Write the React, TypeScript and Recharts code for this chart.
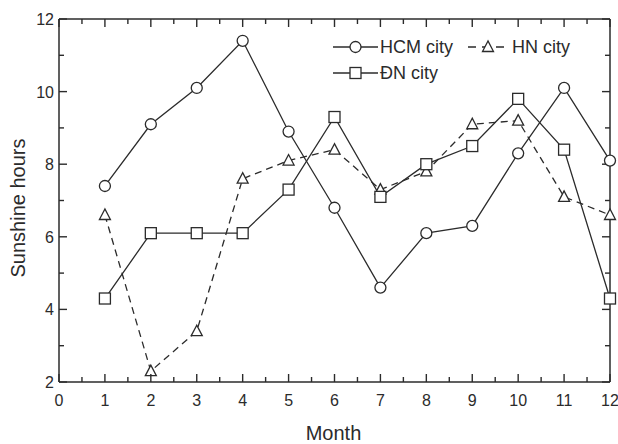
import React from 'react';
import { LineChart, Line, XAxis, YAxis, Legend, Label, ReferenceLine, ReferenceDot } from 'recharts';

const months = [1, 2, 3, 4, 5, 6, 7, 8, 9, 10, 11, 12];
const hcmCity = [7.4, 9.1, 10.1, 11.4, 8.9, 6.8, 4.6, 6.1, 6.3, 8.3, 10.1, 8.1];
const hnCity = [6.6, 2.3, 3.4, 7.6, 8.1, 8.4, 7.3, 7.8, 9.1, 9.2, 7.1, 6.6];
const dnCity = [4.3, 6.1, 6.1, 6.1, 7.3, 9.3, 7.1, 8.0, 8.5, 9.8, 8.4, 4.3];

const xTicks = [0, 0.5, 1, 1.5, 2, 2.5, 3, 3.5, 4, 4.5, 5, 5.5, 6, 6.5, 7, 7.5, 8, 8.5, 9, 9.5, 10, 10.5, 11, 11.5, 12];
const yTicks = [2, 3, 4, 5, 6, 7, 8, 9, 10, 11, 12];

const data = months.map((m, i) => ({ month: m, hcm: hcmCity[i], hn: hnCity[i], dn: dnCity[i] }));

const INK = '#2b2b2b';
const FONT = '"Liberation Sans", Arial, sans-serif';
const DASH = '7 5';

const isMajorX = (v: number) => Number.isInteger(v);
const isMajorY = (v: number) => v % 2 === 0;

// inward ticks, labels only on the bottom/left axes
const BottomTick = (p: any) => {
  const v = p.payload.value;
  const len = isMajorX(v) ? 8 : 5;
  return (
    <g>
      <line x1={p.x} x2={p.x} y1={p.y} y2={p.y - len} stroke={INK} strokeWidth={1.4} />
      {isMajorX(v) && (
        <text x={p.x} y={p.y + 24} textAnchor='middle' fontSize={16} fill={INK} fontFamily={FONT}>{v}</text>
      )}
    </g>
  );
};

const LeftTick = (p: any) => {
  const v = p.payload.value;
  const len = isMajorY(v) ? 8 : 5;
  return (
    <g>
      <line x1={p.x} x2={p.x + len} y1={p.y} y2={p.y} stroke={INK} strokeWidth={1.4} />
      {isMajorY(v) && (
        <text x={p.x - 5} y={p.y + 6} textAnchor='end' fontSize={16} fill={INK} fontFamily={FONT}>{v}</text>
      )}
    </g>
  );
};

// mirrored ticks on the top and right frame edges
const topTickShape = (v: number) => (p: any) => (
  <line x1={p.cx} x2={p.cx} y1={p.cy} y2={p.cy + (isMajorX(v) ? 8 : 5)} stroke={INK} strokeWidth={1.4} />
);
const rightTickShape = (v: number) => (p: any) => (
  <line x1={p.cx} x2={p.cx - (isMajorY(v) ? 8 : 5)} y1={p.cy} y2={p.cy} stroke={INK} strokeWidth={1.4} />
);

const Circle = (p: any) => (
  <circle key={p.key} cx={p.cx} cy={p.cy} r={5.5} fill='#fff' stroke={INK} strokeWidth={1.3} />
);
const Square = (p: any) => (
  <rect key={p.key} x={p.cx - 5.5} y={p.cy - 5.5} width={11} height={11} fill='#fff' stroke={INK} strokeWidth={1.3} />
);
const Triangle = (p: any) => (
  <path key={p.key} d={`M${p.cx},${p.cy - 6}L${p.cx - 5.5},${p.cy + 4.5}L${p.cx + 5.5},${p.cy + 4.5}Z`} fill='#fff' stroke={INK} strokeWidth={1.3} />
);

const LegendBox = () => (
  <svg width={270} height={52} style={{ display: 'block' }}>
    <line x1={3} x2={48} y1={12} y2={12} stroke={INK} strokeWidth={1.3} />
    <Circle cx={25.5} cy={12} />
    <text x={50} y={18} fontSize={18} fill={INK} fontFamily={FONT}>HCM city</text>

    <line x1={138} x2={178} y1={12} y2={12} stroke={INK} strokeWidth={1.3} strokeDasharray='8 6' />
    <Triangle cx={158} cy={12} />
    <text x={182} y={18} fontSize={18} fill={INK} fontFamily={FONT}>HN city</text>

    <line x1={3} x2={48} y1={38} y2={38} stroke={INK} strokeWidth={1.3} />
    <Square cx={25.5} cy={38} />
    <text x={50} y={44} fontSize={18} fill={INK} fontFamily={FONT}>ĐN city</text>
  </svg>
);

export default function App() {
  return (
    <div style={{ position: 'absolute', left: 0, top: 0, background: '#fff' }}>
      <LineChart width={618} height={444} data={data} margin={{ top: 19, right: 8, left: 0, bottom: 0 }}>
        <XAxis
          dataKey='month'
          type='number'
          domain={[0, 12]}
          ticks={xTicks}
          interval={0}
          height={62}
          tickSize={0}
          tickMargin={0}
          tick={<BottomTick />}
          axisLine={{ stroke: INK, strokeWidth: 1.5 }}
          tickLine={false}
        >
          <Label
            content={(lp: any) => (
              <text x={lp.viewBox.x + lp.viewBox.width / 2 - 1} y={lp.viewBox.y + 58} textAnchor='middle' fontSize={20} fill={INK} fontFamily={FONT}>Month</text>
            )}
          />
        </XAxis>
        <YAxis
          type='number'
          domain={[2, 12]}
          ticks={yTicks}
          interval={0}
          width={59}
          tickSize={0}
          tickMargin={0}
          tick={<LeftTick />}
          axisLine={{ stroke: INK, strokeWidth: 1.5 }}
          tickLine={false}
        >
          <Label
            content={() => (
              <text x={25} y={208} transform='rotate(-90 25 208)' textAnchor='middle' fontSize={20} fill={INK} fontFamily={FONT}>Sunshine hours</text>
            )}
          />
        </YAxis>
        <ReferenceLine y={12} stroke={INK} strokeWidth={1.5} ifOverflow='visible' />
        <ReferenceLine x={12} stroke={INK} strokeWidth={1.5} ifOverflow='visible' />
        {xTicks.map((v) => (
          <ReferenceDot key={'t' + v} x={v} y={12} r={0} ifOverflow='visible' shape={topTickShape(v)} />
        ))}
        {yTicks.map((v) => (
          <ReferenceDot key={'r' + v} x={12} y={v} r={0} ifOverflow='visible' shape={rightTickShape(v)} />
        ))}
        <Legend
          layout='horizontal'
          verticalAlign='middle'
          align='center'
          content={() => <LegendBox />}
          wrapperStyle={{ position: 'absolute', left: 330, top: 35, width: 270, height: 52 }}
        />
        <Line dataKey='hcm' name='HCM city' stroke={INK} strokeWidth={1.3} dot={<Circle />} activeDot={false} isAnimationActive={false} />
        <Line dataKey='hn' name='HN city' stroke={INK} strokeWidth={1.3} strokeDasharray={DASH} dot={<Triangle />} activeDot={false} isAnimationActive={false} />
        <Line dataKey='dn' name='ĐN city' stroke={INK} strokeWidth={1.3} dot={<Square />} activeDot={false} isAnimationActive={false} />
      </LineChart>
    </div>
  );
}
